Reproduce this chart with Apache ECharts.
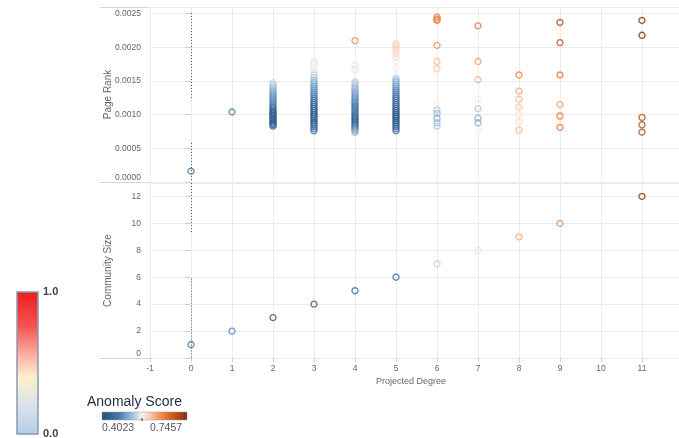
<!DOCTYPE html>
<html><head><meta charset="utf-8">
<script src="https://cdn.jsdelivr.net/npm/echarts@6/dist/echarts.min.js"></script>
<style>html,body{margin:0;padding:0;background:#fff}#c{width:679px;height:438px}</style>
</head><body><div id="c"></div>
<script>
// ---- data ----
const degrees = [0, 1, 2, 3, 4, 5, 6, 7, 8, 9, 11];
// Page Rank values per projected degree
const pr0 = [0.00016];
const pr1 = [0.00104];
const pr2 = [0.00147,0.00144,0.00141,0.00138,0.00135,0.00132,0.00129,0.00126,0.00123,0.00120,0.00117,0.00114,0.00111,0.00108,0.00105,0.00103,0.00101,0.00099,0.00097,0.00095,0.00093,0.00091,0.00089,0.00087,0.00085,0.00083];
const pr3 = [0.00179,0.00175,0.00171,0.00167,0.00163,0.00159,0.00155,0.00151,0.00148,0.00145,0.00142,0.00139,0.00136,0.00133,0.00130,0.00127,0.00124,0.00121,0.00118,0.00115,0.00112,0.00109,0.00106,0.00103,0.00100,0.00097,0.00094,0.00091,0.00088,0.00085,0.00082,0.00079,0.00076];
const pr4 = [0.00210,0.00174,0.00167,0.00149,0.00146,0.00143,0.00140,0.00137,0.00134,0.00131,0.00128,0.00125,0.00122,0.00119,0.00116,0.00113,0.00110,0.00107,0.00104,0.00101,0.00098,0.00095,0.00092,0.00089,0.00086,0.00083,0.00080,0.00077,0.00074];
const pr5 = [0.00205,0.00201,0.00196,0.00191,0.00185,0.00179,0.00168,0.00154,0.00151,0.00148,0.00145,0.00142,0.00139,0.00136,0.00133,0.00130,0.00127,0.00124,0.00121,0.00118,0.00115,0.00112,0.00109,0.00106,0.00103,0.00100,0.00097,0.00094,0.00091,0.00088,0.00085,0.00082,0.00079,0.00076];
const pr6 = [0.00245,0.00242,0.00240,0.00203,0.00179,0.00168,0.00118,0.00107,0.00102,0.00095,0.00088,0.00083];
const pr7 = [0.00232,0.00179,0.00152,0.00123,0.00109,0.00095,0.00088,0.00077];
const pr8 = [0.00159,0.00135,0.00123,0.00111,0.00100,0.00089,0.00077];
const pr9 = [0.00237,0.00207,0.00159,0.00115,0.00099,0.00097,0.00081];
const pr11 = [0.00240,0.00218,0.00096,0.00085,0.00074];
// Anomaly scores matching the page-rank points
const sc0 = [0.47];
const sc1 = [0.47];
const sc2 = [0.54,0.53,0.53,0.52,0.51,0.50,0.50,0.49,0.49,0.48,0.48,0.47,0.46,0.44,0.43,0.42,0.44,0.42,0.43,0.45,0.42,0.43,0.44,0.42,0.43,0.44];
const sc3 = [0.58,0.575,0.57,0.56,0.555,0.54,0.53,0.52,0.52,0.51,0.50,0.50,0.49,0.49,0.48,0.48,0.47,0.47,0.46,0.45,0.44,0.43,0.42,0.44,0.41,0.43,0.42,0.44,0.41,0.43,0.45,0.46,0.47];
const sc4 = [0.64,0.58,0.575,0.54,0.53,0.53,0.52,0.52,0.51,0.50,0.50,0.49,0.49,0.48,0.48,0.47,0.46,0.47,0.45,0.46,0.44,0.43,0.42,0.43,0.42,0.45,0.47,0.49,0.51];
const sc5 = [0.60,0.595,0.59,0.585,0.58,0.57,0.56,0.53,0.52,0.51,0.51,0.50,0.50,0.49,0.48,0.48,0.47,0.47,0.46,0.46,0.45,0.45,0.44,0.43,0.42,0.42,0.41,0.42,0.41,0.42,0.43,0.44,0.45,0.46];
const sc6 = [0.66,0.65,0.655,0.64,0.61,0.60,0.565,0.53,0.52,0.51,0.52,0.53];
const sc7 = [0.66,0.63,0.61,0.57,0.53,0.51,0.51,0.565];
const sc8 = [0.65,0.62,0.61,0.60,0.575,0.58,0.61];
const sc9 = [0.71,0.70,0.665,0.63,0.63,0.625,0.66];
const sc11 = [0.735,0.745,0.705,0.70,0.705];
// Community size per projected degree
const communitySize = [1, 2, 3, 4, 5, 6, 7, 8, 9, 10, 12];
const communityScore = [0.47, 0.48, 0.43, 0.425, 0.45, 0.455, 0.54, 0.555, 0.62, 0.645, 0.73];
// dotted reference line at degree 0 (segments)
const refTop = [[0.00251, 0.00122], [0.00058, 0]];
const refBottom = [[13, 9.2], [5.9, 0]];
const scoreMin = 0.4023, scoreMax = 0.7457;
const yTickPR = ['0.0000','0.0005','0.0010','0.0015','0.0020','0.0025'];

// ---- colour scale ----
const stops = [[0,'#234f7e'],[0.2,'#4677aa'],[0.35,'#9dbcdb'],[0.47,'#f4f2f0'],[0.58,'#fbc3a0'],[0.72,'#ef8040'],[0.86,'#c0521a'],[1,'#7a3010']];
function colorAt(s){
  let t = (s - scoreMin) / (scoreMax - scoreMin);
  t = Math.max(0, Math.min(1, t));
  for (let i = 1; i < stops.length; i++) {
    if (t <= stops[i][0]) {
      const a = stops[i-1], b = stops[i];
      return echarts.color.lerp((t - a[0]) / (b[0] - a[0]), [a[1], b[1]]);
    }
  }
  return stops[stops.length-1][1];
}

const prCols = [pr0,pr1,pr2,pr3,pr4,pr5,pr6,pr7,pr8,pr9,pr11];
const scCols = [sc0,sc1,sc2,sc3,sc4,sc5,sc6,sc7,sc8,sc9,sc11];
const topData = [];
degrees.forEach((d, i) => {
  prCols[i].forEach((v, j) => {
    topData.push({ value: [d, v], itemStyle: { borderColor: colorAt(scCols[i][j]) } });
  });
});
const bottomData = degrees.map((d, i) => ({ value: [d, communitySize[i]], itemStyle: { borderColor: colorAt(communityScore[i]) } }));

const FONT = 'Liberation Sans, Arial, sans-serif';
const labelStyle = { color: '#666', fontSize: 8.5, fontFamily: FONT };
const titleStyle = { color: '#666', fontSize: 10, fontFamily: FONT };
const split = { show: true, lineStyle: { color: '#ececec', width: 1 } };
const tick = { show: true, length: 6, lineStyle: { color: '#d0d0d0' } };
const refLine = { type: [1, 2], color: '#555', width: 1 };
const zeroRich = { z: { padding: [0, 0, 9, 0], color: '#666', fontSize: 8.5, fontFamily: FONT } };

const chart = echarts.init(document.getElementById('c'), null, { renderer: 'canvas' });
chart.setOption({
  animation: false,
  backgroundColor: '#fff',
  grid: [
    { left: 150, width: 574, top: 7, height: 175, outerBoundsMode: 'none', containLabel: false },
    { left: 150, width: 574, top: 183, height: 175, outerBoundsMode: 'none', containLabel: false }
  ],
  xAxis: [
    { type: 'value', gridIndex: 0, min: -1, max: 13, interval: 1, axisLabel: { show: false }, axisTick: { show: false }, axisLine: { show: false }, splitLine: split },
    { type: 'value', gridIndex: 1, min: -1, max: 13, interval: 1, axisLabel: Object.assign({ margin: 6 }, labelStyle), axisTick: { show: true, length: 4, lineStyle: { color: '#d0d0d0' } }, axisLine: { show: false }, splitLine: split,
      name: 'Projected Degree', nameLocation: 'middle', nameGap: 19, nameMoveOverlap: false,
      nameTextStyle: { color: '#666', fontSize: 9, fontFamily: FONT, padding: [0, 52, 0, 0] } }
  ],
  yAxis: [
    { type: 'value', gridIndex: 0, min: 0, max: 0.0026, interval: 0.0005,
      axisLabel: Object.assign({ showMaxLabel: false, margin: 9, rich: zeroRich,
        formatter: v => { const s = yTickPR[Math.round(v / 0.0005)] || ''; return v === 0 ? '{z|' + s + '}' : s; } }, labelStyle),
      axisTick: tick, axisLine: { show: false }, splitLine: split,
      name: 'Page Rank', nameLocation: 'middle', nameGap: 37, nameMoveOverlap: false, nameTextStyle: titleStyle },
    { type: 'value', gridIndex: 1, min: 0, max: 13, interval: 2,
      axisLabel: Object.assign({ showMaxLabel: false, margin: 9, rich: zeroRich,
        formatter: v => v === 0 ? '{z|0}' : String(v) }, labelStyle),
      axisTick: tick, axisLine: { show: false }, splitLine: split,
      name: 'Community Size', nameLocation: 'middle', nameGap: 37, nameMoveOverlap: false, nameTextStyle: titleStyle }
  ],
  series: [
    { type: 'scatter', xAxisIndex: 0, yAxisIndex: 0, symbol: 'circle', symbolSize: 6,
      itemStyle: { color: 'rgba(0,0,0,0)', borderWidth: 1.4 }, data: topData,
      markLine: { silent: true, symbol: 'none', label: { show: false }, lineStyle: refLine,
        data: refTop.map(s => [{ coord: [0, s[0]] }, { coord: [0, s[1]] }]) } },
    { type: 'scatter', xAxisIndex: 1, yAxisIndex: 1, symbol: 'circle', symbolSize: 6,
      itemStyle: { color: 'rgba(0,0,0,0)', borderWidth: 1.4 }, data: bottomData,
      markLine: { silent: true, symbol: 'none', label: { show: false }, lineStyle: refLine,
        data: refBottom.map(s => [{ coord: [0, s[0]] }, { coord: [0, s[1]] }]) } }
  ],
  graphic: [
    { type: 'line', shape: { x1: 100, y1: 7.5, x2: 679, y2: 7.5 }, style: { stroke: '#d6d6d6', lineWidth: 1 }, silent: true },
    { type: 'line', shape: { x1: 100, y1: 182.5, x2: 679, y2: 182.5 }, style: { stroke: '#d6d6d6', lineWidth: 1 }, silent: true },
    { type: 'line', shape: { x1: 100, y1: 358.5, x2: 679, y2: 358.5 }, style: { stroke: '#d6d6d6', lineWidth: 1 }, silent: true },
    // vertical 0-1 colour bar
    { type: 'rect', shape: { x: 17, y: 292, width: 21, height: 142 },
      style: { fill: new echarts.graphic.LinearGradient(0, 0, 0, 1, [
        { offset: 0, color: '#ee1a1a' }, { offset: 0.25, color: '#f65555' }, { offset: 0.45, color: '#fbb2a6' },
        { offset: 0.6, color: '#fdf0c8' }, { offset: 0.8, color: '#d9e3ed' }, { offset: 1, color: '#b2cde7' }]),
        stroke: '#8a9ab2', lineWidth: 1.5 } },
    { type: 'text', x: 43, y: 292, style: { text: '1.0', fill: '#444', font: 'bold 11px ' + FONT, verticalAlign: 'middle' } },
    { type: 'text', x: 43, y: 434, style: { text: '0.0', fill: '#444', font: 'bold 11px ' + FONT, verticalAlign: 'middle' } },
    // Anomaly score legend
    { type: 'text', x: 87, y: 402, style: { text: 'Anomaly Score', fill: '#1f2a44', font: '14px ' + FONT, verticalAlign: 'middle' } },
    { type: 'rect', shape: { x: 102, y: 412, width: 85, height: 8 },
      style: { fill: new echarts.graphic.LinearGradient(0, 0, 1, 0, stops.map(s => ({ offset: s[0], color: s[1] }))), stroke: '#999', lineWidth: 0.5 } },
    { type: 'line', shape: { x1: 142, y1: 418, x2: 142, y2: 421 }, style: { stroke: '#333', lineWidth: 1 } },
    { type: 'text', x: 102, y: 428, style: { text: String(scoreMin), fill: '#555', font: '10.5px ' + FONT, verticalAlign: 'middle' } },
    { type: 'text', x: 150, y: 428, style: { text: String(scoreMax), fill: '#555', font: '10.5px ' + FONT, verticalAlign: 'middle' } }
  ]
});
</script>
</body></html>
